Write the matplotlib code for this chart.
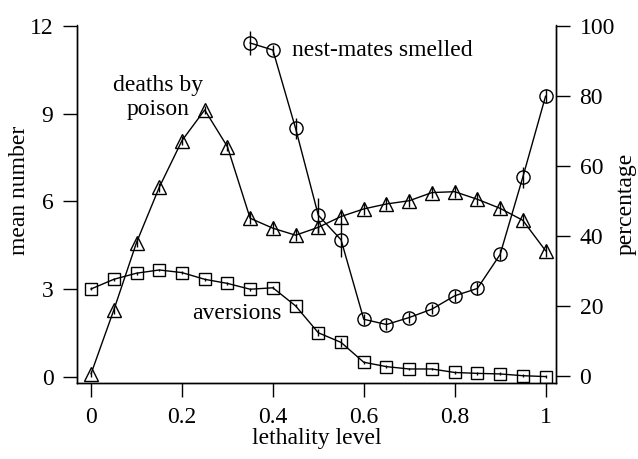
import matplotlib
matplotlib.use("Agg")
import matplotlib.pyplot as plt

plt.rcParams['font.family'] = ['Liberation Serif', 'DejaVu Serif']
plt.rcParams['font.size'] = 17

# lethality levels
lethality = [0, 0.05, 0.1, 0.15, 0.2, 0.25, 0.3, 0.35, 0.4, 0.45, 0.5,
             0.55, 0.6, 0.65, 0.7, 0.75, 0.8, 0.85, 0.9, 0.95, 1.0]

# deaths by poison (mean number, left axis)
deaths = [0.1, 2.28, 4.59, 6.48, 8.08, 9.13, 7.87, 5.42, 5.08, 4.84, 5.11,
          5.48, 5.74, 5.91, 6.02, 6.30, 6.33, 6.07, 5.76, 5.35, 4.31]
deaths_err = [0.1, 0.15, 0.15, 0.15, 0.15, 0.15, 0.15, 0.2, 0.2, 0.2, 0.2,
              0.25, 0.2, 0.2, 0.2, 0.2, 0.2, 0.2, 0.2, 0.2, 0.2]

# aversions (mean number, left axis)
aversions = [3.0, 3.33, 3.54, 3.65, 3.56, 3.33, 3.19, 2.99, 3.04, 2.42, 1.50,
             1.17, 0.49, 0.34, 0.26, 0.26, 0.14, 0.11, 0.09, 0.03, 0.0]
aversions_err = [0.05, 0.05, 0.05, 0.05, 0.05, 0.05, 0.05, 0.05, 0.05, 0.05,
                 0.12, 0.15, 0.05, 0.05, 0.05, 0.05, 0.05, 0.05, 0.05, 0.05, 0.05]

# nest-mates smelled (percentage, right axis), from 0.35 on
smell_x = [0.35, 0.4, 0.45, 0.5, 0.55, 0.6, 0.65, 0.7, 0.75, 0.8, 0.85,
           0.9, 0.95, 1.0]
smelled = [95.1, 93.1, 70.7, 45.9, 38.9, 16.2, 14.7, 16.7, 19.1, 22.9, 25.0,
           34.7, 56.8, 79.9]
smelled_err = [3.3, 1.5, 3.0, 5.0, 5.0, 1.5, 1.5, 1.5, 1.5, 1.8, 1.8,
               1.5, 3.0, 2.0]

fig = plt.figure(figsize=(6.38, 4.59), dpi=100)
ax = fig.add_axes([77 / 638, 1 - 383 / 459, (556 - 77) / 638, (383 - 25.5) / 459])
ax2 = ax.twinx()

ekw = dict(color='black', lw=1.0, elinewidth=1.0, capsize=0, mec='black',
           mfc='none', mew=1.0)
ax.errorbar(lethality, deaths, yerr=deaths_err, marker='^', ms=10, **ekw)
ax.errorbar(lethality, aversions, yerr=aversions_err, marker='s', ms=8.5, **ekw)
ax2.errorbar(smell_x, smelled, yerr=smelled_err, marker='o', ms=9.5, **ekw)

ax.set_xlim(-0.031, 1.023)
ax.set_ylim(-0.22, 12.02)
ax2.set_ylim(-2.0, 100.1)

ax.set_xticks([0, 0.2, 0.4, 0.6, 0.8, 1])
ax.set_xticklabels(['0', '0.2', '0.4', '0.6', '0.8', '1'])
ax.set_yticks([0, 3, 6, 9, 12])
ax2.set_yticks([0, 20, 40, 60, 80, 100])

for a in (ax, ax2):
    a.spines['top'].set_visible(False)
    for s in a.spines.values():
        s.set_linewidth(1.0)
    a.tick_params(direction='out', length=10, width=1.0, pad=7)

ax.set_xlabel('lethality level', labelpad=0)
ax.set_ylabel('mean number')
ax.yaxis.set_label_coords(-0.098, 0.54)
ax2.set_ylabel('percentage')
ax2.yaxis.set_label_coords(1.125, 0.5)

ax.text(0.442, 11.18, 'nest-mates smelled', ha='left', va='center')
ax.text(0.147, 9.55, 'deaths by\npoison', ha='center', va='center',
        linespacing=1.15)
ax.text(0.321, 2.17, 'aversions', ha='center', va='center')

fig.savefig('out.png', dpi=100)
